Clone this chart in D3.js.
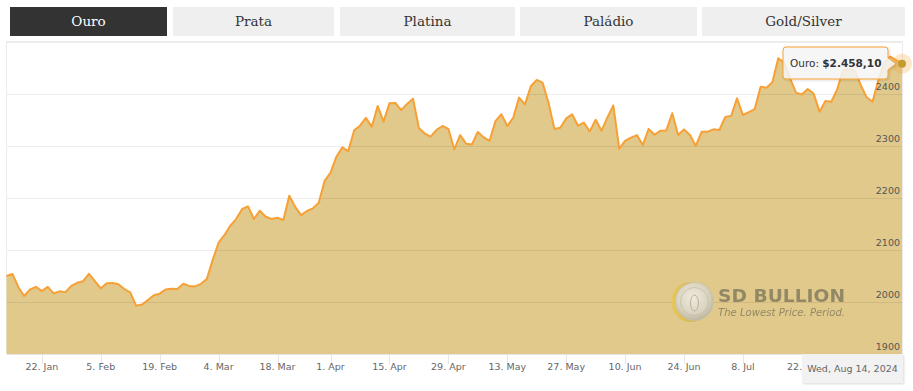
<!DOCTYPE html>
<html>
<head>
<meta charset="utf-8">
<script src="https://cdn.jsdelivr.net/npm/d3@7"></script>
<style>
  html, body { margin: 0; padding: 0; background: #fff; }
  svg { display: block; }
</style>
</head>
<body>
<svg id="chart" width="913" height="391"></svg>
<script>
// ---- data ----
const tabs = ["Ouro", "Prata", "Platina", "Paládio", "Gold/Silver"];
const seriesName = "Ouro";
const prices = [
  2050, 2054, 2029, 2011.5, 2024, 2029, 2021, 2029, 2016.6, 2020.5,
  2019, 2031, 2037, 2040, 2054, 2040, 2026, 2036, 2036.5, 2034,
  2025, 2018.6, 1993, 1995, 2004, 2013, 2016, 2024, 2025.6, 2025,
  2035, 2031, 2030, 2035, 2044, 2081, 2114, 2129, 2147, 2160,
  2178.8, 2184, 2159.6, 2175.6, 2164, 2159.6, 2162, 2157.7, 2204.5, 2183,
  2167, 2175, 2180, 2191, 2233, 2248.7, 2279.5, 2297.4, 2290, 2330,
  2339, 2354, 2337, 2377, 2346.8, 2382, 2382.7, 2369, 2380.8, 2391,
  2334.6, 2324, 2318, 2331, 2338.5, 2333, 2293.6, 2321, 2304.5, 2303,
  2327, 2316.6, 2310, 2348, 2361, 2338.5, 2354, 2393, 2380, 2415,
  2427, 2421.8, 2383, 2332.7, 2335, 2353, 2361, 2339, 2345, 2328,
  2350.6, 2329.5, 2355, 2378, 2294.8, 2310, 2316, 2321, 2302, 2333,
  2321.7, 2329.5, 2330, 2363, 2321, 2332, 2321, 2300, 2327.5, 2327.5,
  2332, 2330.8, 2356, 2357.7, 2391.7, 2359.6, 2365, 2371, 2414, 2412,
  2422.5, 2468.6, 2460, 2430, 2402.7, 2399, 2409.6, 2401, 2366, 2386.5,
  2385, 2409, 2446, 2447.5, 2445, 2417, 2393.6, 2385, 2427, 2460,
  2472, 2465, 2458.1
];
const xTickIndex = [6, 16, 26, 36, 46, 55, 65, 75, 85, 95, 105, 115, 125, 135];
const xTickLabels = ["22. Jan", "5. Feb", "19. Feb", "4. Mar", "18. Mar", "1. Apr", "15. Apr", "29. Apr",
                     "13. May", "27. May", "10. Jun", "24. Jun", "8. Jul", "22. Jul"];
const yTicks = [1900, 2000, 2100, 2200, 2300, 2400];
const yDomain = [1900, 2500];
const lastDateLabel = "Wed, Aug 14, 2024";
const tooltipValue = "$2.458,10";

// ---- layout ----
const svg = d3.select("#chart");
const plot = { left: 7, right: 902, top: 42, bottom: 354 };

const x = d3.scaleLinear().domain([0, prices.length - 1]).range([6.5, 902]);
const y = d3.scaleLinear().domain(yDomain).range([plot.bottom, plot.top]);

const defs = svg.append("defs");
const coinGrad = defs.append("radialGradient").attr("id", "coin").attr("cx", "45%").attr("cy", "40%").attr("r", "60%");
coinGrad.append("stop").attr("offset", "0%").attr("stop-color", "#f1efe6");
coinGrad.append("stop").attr("offset", "70%").attr("stop-color", "#d9d5c6");
coinGrad.append("stop").attr("offset", "100%").attr("stop-color", "#b9b4a2");
const edgeGrad = defs.append("linearGradient").attr("id", "coinEdge").attr("x1", "0").attr("x2", "1");
edgeGrad.append("stop").attr("offset", "0%").attr("stop-color", "#e8c85a");
edgeGrad.append("stop").attr("offset", "100%").attr("stop-color", "#c9a540");
const shadow = defs.append("filter").attr("id", "shadow").attr("x", "-20%").attr("y", "-20%").attr("width", "140%").attr("height", "150%");
shadow.append("feDropShadow").attr("dx", 1).attr("dy", 1).attr("stdDeviation", 1.2).attr("flood-color", "#000").attr("flood-opacity", 0.15);

// ---- tabs ----
const tabX = [10, 173, 340, 520, 702];
const tabW = [157, 161, 175, 177, 203];
const tabG = svg.append("g");
tabs.forEach((t, i) => {
  tabG.append("rect")
    .attr("x", tabX[i]).attr("y", 7).attr("width", tabW[i]).attr("height", 29)
    .attr("fill", i === 0 ? "#333333" : "#efefef");
  tabG.append("text")
    .attr("x", tabX[i] + tabW[i] / 2).attr("y", 26)
    .attr("text-anchor", "middle")
    .attr("font-family", "'DejaVu Serif', serif")
    .attr("font-size", 13.5)
    .attr("fill", i === 0 ? "#ffffff" : "#333333")
    .text(t);
});

// ---- chart box ----
svg.append("rect")
  .attr("x", plot.left - 0.5).attr("y", 41.5)
  .attr("width", plot.right - plot.left + 1).attr("height", plot.bottom - 41.5)
  .attr("fill", "#fff").attr("stroke", "#ebebeb");

// ---- area + line ----
const area = d3.area().x((d, i) => x(i)).y0(y(yDomain[0])).y1(d => y(d));
const line = d3.line().x((d, i) => x(i)).y(d => y(d));

svg.append("path").datum(prices).attr("d", area).attr("fill", "#e0c98a");

// gridlines above fill
svg.append("g").selectAll("line").data(yTicks.filter(v => v > yDomain[0]).concat([2500])).join("line")
  .attr("x1", plot.left).attr("x2", plot.right)
  .attr("y1", d => Math.round(y(d)) + 0.5).attr("y2", d => Math.round(y(d)) + 0.5)
  .attr("stroke", "rgba(0,0,0,0.07)").attr("stroke-width", 1);

// watermark
const wm = svg.append("g").attr("opacity", 0.9);
wm.append("circle").attr("cx", 691).attr("cy", 302).attr("r", 20).attr("fill", "url(#coinEdge)");
wm.append("circle").attr("cx", 694.5).attr("cy", 301.5).attr("r", 19).attr("fill", "url(#coin)").attr("stroke", "#c8c3b0").attr("stroke-width", 0.8);
wm.append("circle").attr("cx", 694.5).attr("cy", 301.5).attr("r", 14).attr("fill", "none").attr("stroke", "#b8b29e").attr("stroke-width", 0.6);
wm.append("ellipse").attr("cx", 694.5).attr("cy", 303).attr("rx", 4).attr("ry", 8).attr("fill", "none").attr("stroke", "#a8a28e").attr("stroke-width", 0.8);
wm.append("text").attr("x", 718).attr("y", 302)
  .attr("font-family", "'DejaVu Sans', sans-serif").attr("font-weight", "bold").attr("font-size", 18)
  .attr("textLength", 127).attr("lengthAdjust", "spacingAndGlyphs")
  .attr("fill", "#8b8262").text("SD BULLION");
wm.append("text").attr("x", 718).attr("y", 316)
  .attr("font-family", "'DejaVu Sans', sans-serif").attr("font-style", "italic").attr("font-size", 11)
  .attr("textLength", 127).attr("lengthAdjust", "spacingAndGlyphs")
  .attr("fill", "#8b8262").text("The Lowest Price. Period.");

svg.append("path").datum(prices).attr("d", line)
  .attr("fill", "none").attr("stroke", "#f7a035").attr("stroke-width", 2)
  .attr("stroke-linejoin", "round");

// ---- y axis labels (inside, right) ----
svg.append("g").selectAll("text").data(yTicks).join("text")
  .attr("x", 900).attr("y", d => y(d) - 4)
  .attr("text-anchor", "end")
  .attr("font-family", "'DejaVu Sans', sans-serif").attr("font-size", 9.5)
  .attr("fill", "#555").text(d => d);

// ---- x axis ----
svg.append("line").attr("x1", plot.left).attr("x2", plot.right)
  .attr("y1", plot.bottom + 0.5).attr("y2", plot.bottom + 0.5).attr("stroke", "#e6e6e6");
const xg = svg.append("g");
xg.selectAll("line").data(xTickIndex).join("line")
  .attr("x1", d => Math.round(x(d)) + 0.5).attr("x2", d => Math.round(x(d)) + 0.5)
  .attr("y1", plot.bottom).attr("y2", plot.bottom + 10)
  .attr("stroke", "#e6e6e6");
xg.selectAll("text").data(xTickIndex).join("text")
  .attr("x", d => x(d)).attr("y", 370)
  .attr("text-anchor", "middle")
  .attr("font-family", "'DejaVu Sans', sans-serif").attr("font-size", 9.5)
  .attr("fill", "#666").text((d, i) => xTickLabels[i]);

// ---- hover marker ----
const li = prices.length - 1;
svg.append("circle").attr("cx", x(li)).attr("cy", y(prices[li])).attr("r", 10)
  .attr("fill", "#f7a035").attr("opacity", 0.25);
svg.append("circle").attr("cx", x(li)).attr("cy", y(prices[li])).attr("r", 4)
  .attr("fill", "#c49a2c");

// ---- tooltip ----
const ty = y(prices[li]);
const tt = svg.append("g");
tt.append("path")
  .attr("d", `M786,47 H885 Q888,47 888,50 V${ty - 6} L${x(li) - 6},${ty} L888,${ty + 6} V76 Q888,79 885,79 H786 Q783,79 783,76 V50 Q783,47 786,47 Z`)
  .attr("fill", "rgba(247,247,247,0.85)").attr("stroke", "#f7a035").attr("stroke-width", 1)
  .attr("filter", "url(#shadow)");
const ttText = tt.append("text").attr("x", 790).attr("y", 66.5)
  .attr("font-family", "'DejaVu Sans', sans-serif").attr("font-size", 10.5).attr("fill", "#333");
ttText.append("tspan").text(seriesName + ": ");
ttText.append("tspan").attr("font-weight", "bold").text(tooltipValue);

// ---- x crosshair date label ----
const dl = svg.append("g");
dl.append("rect").attr("x", 802).attr("y", 354).attr("width", 101).attr("height", 29)
  .attr("fill", "#f2f2f2").attr("filter", "url(#shadow)");
dl.append("text").attr("x", 852.5).attr("y", 371.5).attr("text-anchor", "middle")
  .attr("font-family", "'DejaVu Sans', sans-serif").attr("font-size", 9.5)
  .attr("fill", "#666").text(lastDateLabel);
</script>
</body>
</html>
